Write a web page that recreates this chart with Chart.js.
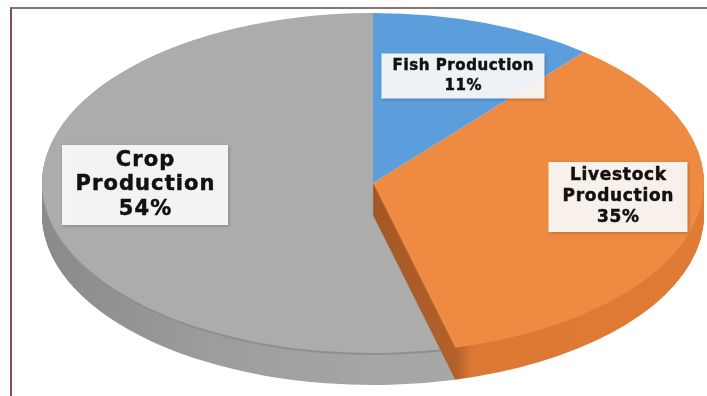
<!DOCTYPE html>
<html>
<head>
<meta charset="utf-8">
<script src="https://cdn.jsdelivr.net/npm/chart.js@4"></script>
<style>
  html, body { margin: 0; padding: 0; background: #fff; }
  #wrap { position: relative; width: 707px; height: 396px; overflow: hidden; }
  #frame { position: absolute; left: 10px; top: 7px; width: 697px; height: 389px;
           border-left: 2px solid #7d5252; border-top: 2px solid #8a7575; box-sizing: border-box; }
  canvas { position: absolute; left: 0; top: 0; }
</style>
</head>
<body>
<div id="wrap">
  <canvas id="pie" width="707" height="396"></canvas>
  <div id="frame"></div>
</div>
<script>
// data
var categories = ['Fish Production', 'Livestock Production', 'Crop Production'];
var shares = [11, 35, 54];
var wrapName = [false, true, true];
var topColors = ['#5C9DDB', '#EE8A42', '#ACACAC'];

// where the squashed (3d looking) pie sits on the page
var CX = 373, CY = 183, RX = 331, RY = 170, DEPTH = 32;

// label boxes: centre, size, font size, line height
var labelBoxes = [
    { x: 463, y: 76, w: 163, h: 45, size: 15, spacing: 0.6, line: 20 },
    { x: 618, y: 197, w: 139, h: 70, size: 17, spacing: 0.7, line: 21 },
    { x: 145, y: 185, w: 166, h: 80, size: 21, spacing: 1.1, line: 24.5 }
];

function drawWith(el, ctx, fill) {
    var orig = el.options;
    el.options = Object.assign({}, orig, { backgroundColor: fill, borderWidth: 0 });
    el.draw(ctx);
    el.options = orig;
}

var pie3d = {
    id: 'pie3d',
    beforeDatasetsDraw: function(chart) {
        var ctx = chart.ctx;
        var arcs = chart.getDatasetMeta(0).data;
        var x0 = arcs[0].x, y0 = arcs[0].y, r = arcs[0].outerRadius;

        function place(dy) {
            ctx.translate(CX, CY + dy);
            ctx.scale(RX / r, RY / r);
            ctx.translate(-x0, -y0);
        }

        // side colours (gradients live in chart space)
        var graySide = ctx.createLinearGradient(x0 - r, 0, x0, 0);
        graySide.addColorStop(0, '#8a8a8a');
        graySide.addColorStop(0.5, '#9c9c9c');
        graySide.addColorStop(1, '#a6a6a6');
        var orangeSide = ctx.createLinearGradient(x0, 0, x0 + r, 0);
        orangeSide.addColorStop(0, '#a45726');
        orangeSide.addColorStop(0.25, '#b2612a');
        orangeSide.addColorStop(0.3, '#dc7834');
        orangeSide.addColorStop(1, '#e07b35');

        // crop slice: side then top
        var d;
        for (d = DEPTH; d >= 1; d--) {
            ctx.save(); place(d);
            drawWith(arcs[2], ctx, d <= 2 ? '#8f8f8f' : graySide);
            ctx.restore();
        }
        ctx.save(); place(0); drawWith(arcs[2], ctx, topColors[2]); ctx.restore();

        // livestock slice is drawn raised so its cut wall shows
        for (d = DEPTH; d >= 1; d--) {
            ctx.save(); place(d);
            drawWith(arcs[1], ctx, orangeSide);
            ctx.restore();
        }
        ctx.save(); place(0); drawWith(arcs[1], ctx, topColors[1]); ctx.restore();

        // fish slice only shows its top
        ctx.save(); place(0); drawWith(arcs[0], ctx, topColors[0]); ctx.restore();
        return false;
    },
    afterDraw: function(chart) {
        var ctx = chart.ctx;
        labelBoxes.forEach(function(b, i) {
            var lines = wrapName[i] ? categories[i].split(' ') : [categories[i]];
            lines = lines.concat(shares[i] + '%');
            ctx.save();
            ctx.shadowColor = 'rgba(0,0,0,0.25)';
            ctx.shadowBlur = 3;
            ctx.shadowOffsetX = 1;
            ctx.shadowOffsetY = 1;
            ctx.fillStyle = 'rgba(255,255,255,0.9)';
            ctx.fillRect(b.x - b.w / 2, b.y - b.h / 2, b.w, b.h);
            ctx.restore();

            ctx.save();
            ctx.fillStyle = '#111';
            ctx.strokeStyle = '#111';
            ctx.lineWidth = 0.5;
            ctx.font = 'bold ' + b.size + 'px "DejaVu Sans"';
            ctx.letterSpacing = b.spacing + 'px';
            ctx.textAlign = 'center';
            ctx.textBaseline = 'middle';
            var top = b.y - (lines.length - 1) * b.line / 2;
            lines.forEach(function(t, k) {
                ctx.fillText(t, b.x + b.spacing / 2, top + k * b.line);
                ctx.strokeText(t, b.x + b.spacing / 2, top + k * b.line);
            });
            ctx.restore();
        });
    }
};

window.onload = function() {
    var ctx = document.getElementById('pie').getContext('2d');
    new Chart(ctx, {
        type: 'pie',
        data: {
            labels: categories,
            datasets: [{
                data: shares,
                backgroundColor: topColors,
                borderWidth: 0
            }]
        },
        options: {
            responsive: false,
            animation: false,
            devicePixelRatio: 1,
            plugins: {
                legend: { display: false },
                tooltip: { enabled: false }
            }
        },
        plugins: [pie3d]
    });
};
</script>
</body>
</html>
